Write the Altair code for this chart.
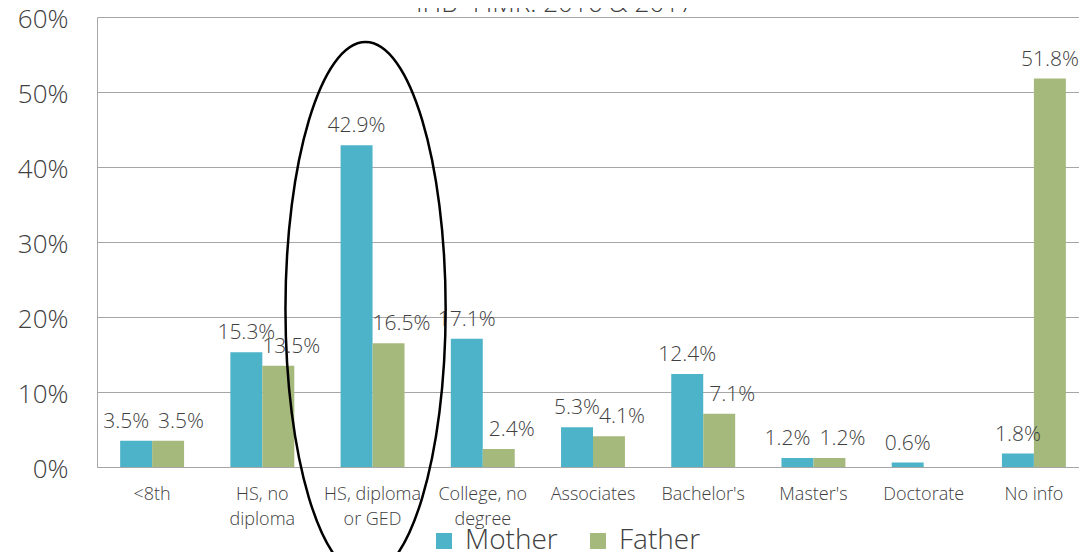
import altair as alt
import pandas as pd

categories = ["<8th", "HS, no diploma", "HS, diploma or GED", "College, no degree",
              "Associates", "Bachelor's", "Master's", "Doctorate", "No info"]
label_lines = {
    "HS, no diploma": ["HS, no", "diploma"],
    "HS, diploma or GED": ["HS, diploma", "or GED"],
    "College, no degree": ["College, no", "degree"],
}
mother = [3.5, 15.3, 42.9, 17.1, 5.3, 12.4, 1.2, 0.6, 1.8]
father = [3.5, 13.5, 16.5, 2.4, 4.1, 7.1, 1.2, None, 51.8]
series = ["Mother", "Father"]
colors = ["#4DB3C8", "#A6B97D"]
y_ticks = [0, 10, 20, 30, 40, 50, 60]
title_text = "IHB- FIMR: 2016 & 2017"
highlight = "HS, diploma or GED"

rows = []
for c, m, f in zip(categories, mother, father):
    # labels of a pair at (nearly) the same height would collide
    collide = f is not None and abs(m - f) < 1
    for s, v in (("Mother", m), ("Father", f)):
        if v is not None:
            rows.append({"cat": c, "parent": s, "val": v, "lab": f"{v:.1f}%",
                         "collide": collide})
df = pd.DataFrame(rows)

FONT = "Open Sans"
W = 300
TXT = "#404040"

expr_parts = []
for k, v in label_lines.items():
    expr_parts.append(f"datum.value == '{k}' ? {v!r}")
label_expr = " : ".join(expr_parts) + " : datum.value"

x = alt.X("cat:N", sort=categories, title=None,
          scale=alt.Scale(paddingInner=0.42, paddingOuter=0.21),
          axis=alt.Axis(labelAngle=0, labelFontSize=18, labelColor=TXT, labelFont=FONT,
                        labelFontWeight=W, labelPadding=18, labelLineHeight=25, ticks=False,
                        domainColor="#A6A6A6", labelExpr=label_expr))
xo = alt.XOffset("parent:N", sort=series, scale=alt.Scale(paddingInner=0, paddingOuter=0))
y = alt.Y("val:Q", title=None,
          scale=alt.Scale(domain=[0, 60], nice=False),
          axis=alt.Axis(values=y_ticks, labelExpr="datum.value + '%'", labelFontSize=26,
                        labelColor=TXT, labelFont=FONT, labelFontWeight=W, labelPadding=29,
                        labelOffset=2, ticks=False, gridColor="#A6A6A6", domainColor="#A6A6A6"))
color = alt.Color("parent:N", sort=series, title=None,
                  scale=alt.Scale(domain=series, range=colors),
                  legend=alt.Legend(orient="none", legendX=333, legendY=510, direction="horizontal",
                                    symbolType="square", symbolSize=256, symbolStrokeWidth=0,
                                    labelFontSize=28, labelFont=FONT, labelFontWeight=W,
                                    labelColor=TXT, labelOffset=7, columnPadding=26))

base = alt.Chart(df)
bars = base.mark_bar().encode(x=x, xOffset=xo, y=y, color=color)

txt_kw = dict(baseline="alphabetic", dy=-13, fontSize=21, font=FONT, fontWeight=W, color=TXT)
txt_enc = dict(x=alt.X("cat:N", sort=categories), xOffset=alt.XOffset("parent:N", sort=series),
               y="val:Q", text="lab:N")
texts_a = base.transform_filter(
    "(datum.parent == 'Mother' && !datum.collide) || datum.val > 50").mark_text(**txt_kw).encode(**txt_enc)
texts_c = base.transform_filter(
    "datum.parent == 'Mother' && datum.collide").mark_text(dx=-10, **txt_kw).encode(**txt_enc)
texts_b = base.transform_filter(
    "datum.parent == 'Father' && datum.val <= 50").mark_text(dx=13, **txt_kw).encode(**txt_enc)

ell_df = pd.DataFrame({"cat": [highlight], "val": [21.07]})
ellipse = alt.Chart(ell_df).mark_point(
    shape="M0,-1 A0.3,1 0 1,1 0,1 A0.3,1 0 1,1 0,-1",
    size=285156, filled=False, stroke="black", strokeWidth=2.5, opacity=1,
    xOffset=-7).encode(
    x=alt.X("cat:N", sort=categories), y="val:Q")

# chart title, drawn as a text annotation just above the plot (partly cut off, as in the original)
title = alt.Chart(pd.DataFrame({"t": [title_text]})).mark_text(
    fontSize=26, font=FONT, fontWeight=W, color=TXT, baseline="alphabetic", align="center").encode(
    x=alt.value(458), y=alt.value(-5), text="t:N")

chart = alt.layer(bars, texts_a, texts_c, texts_b, ellipse, title).properties(
    width=992, height=450,
    autosize=alt.AutoSizeParams(type="none"),
    padding={"left": 89, "top": 9, "right": -10, "bottom": 85},
).configure_view(stroke=None).configure_axis(grid=True)
chart = chart.configure_axisX(grid=False)

chart.save("out.html", embed_options={"renderer": "svg", "actions": False})
